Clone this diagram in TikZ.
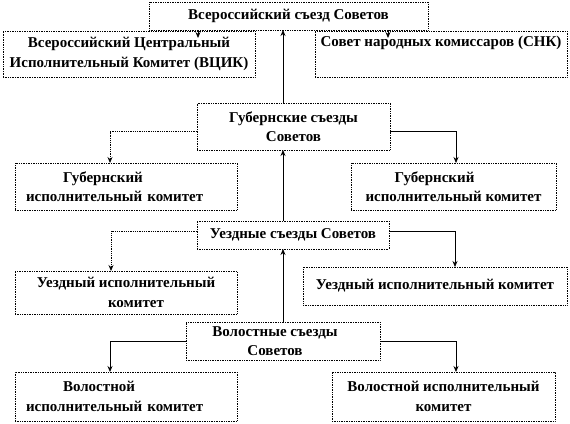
\documentclass[tikz,border=0pt]{standalone}
\usepackage{fontspec}
\setmainfont{Liberation Serif}
\usepackage{tikz}
\usetikzlibrary{arrows.meta,positioning,calc}
\tikzset{
  box/.style={draw=black,densely dotted,line width=0.7pt,inner sep=0pt,outer sep=0pt,align=center,font=\fontsize{15}{19.5}\selectfont\bfseries},
  lbox/.style={box,align=left,text width=200pt},
  arrow/.style={-{Stealth[length=6pt,width=5pt]},line width=0.8pt,draw=black},
  dotline/.style={densely dotted}
}

\begin{document}
\begin{tikzpicture}[x=1pt,y=-1pt]
  \useasboundingbox (0,0) rectangle (570,423);
  % all-russian level
  \node[box,minimum width=279pt,minimum height=28pt] (vsezd) at (288.5,16) {Всероссийский съезд Советов};
  \node[box,minimum width=252pt,minimum height=46pt] (vcik) at (129,54) {Всероссийский Центральный\\Исполнительный Комитет (ВЦИК)};
  \node[box,minimum width=252pt,minimum height=46pt] (snk) at (441,54) {Совет народных комиссаров (СНК)\\\strut};
  % gubernia
  \node[box,minimum width=193pt,minimum height=47pt] (gubsezd) at (293.5,126.5) {Губернские съезды\\Советов};
  \node[lbox,minimum width=222pt,minimum height=47pt] (gubikL) at (126,186.5) {\hspace*{37pt}Губернский\\исполнительный комитет};
  \node[box,minimum width=205pt,minimum height=47pt] (gubikR) at (453.5,186.5) {\hspace*{-38pt}Губернский\\исполнительный комитет};
  % uezd
  \node[box,minimum width=192pt,minimum height=28pt] (uezdsezd) at (293,235) {Уездные съезды Советов};
  \node[box,minimum width=222pt,minimum height=43pt] (uezdikL) at (126,292.5) {Уездный исполнительный\\\hspace*{20pt}комитет};
  \node[box,minimum width=264pt,minimum height=38pt] (uezdikR) at (435,286) {Уездный исполнительный комитет};
  % volost
  \node[box,minimum width=194pt,minimum height=38pt] (volsezd) at (283,341) {\hspace*{-16pt}Волостные съезды\\\hspace*{-16pt}Советов};
  \node[lbox,minimum width=222pt,minimum height=49pt] (volikL) at (126,396.5) {\hspace*{37pt}Волостной\\исполнительный комитет};
  \node[box,minimum width=223pt,minimum height=49pt] (volikR) at (443.5,396.5) {Волостной исполнительный\\комитет};

  \coordinate (axis) at (283,0);
  \coordinate (tipv) at (198,38);
  \coordinate (tips) at (388,38);

  \draw[arrow] (vsezd.south -| tipv) -- (tipv);
  \draw[arrow] (vsezd.south -| tips) -- (tips);
  \draw[arrow] (gubsezd.north -| axis) -- (vsezd.south -| axis);
  \draw[arrow] (uezdsezd.north -| axis) -- (gubsezd.south -| axis);
  \draw[arrow] (volsezd.north -| axis) -- (uezdsezd.south -| axis);

  \draw[arrow,dotline] ([yshift=-5pt]gubsezd.west) -| ([xshift=-16pt]gubikL.north);
  \draw[arrow] ([yshift=-5pt]gubsezd.east) -| ([xshift=2.5pt]gubikR.north);
  \draw[arrow,dotline] ([yshift=4pt]uezdsezd.west) -| ([xshift=-15pt]uezdikL.north);
  \draw[arrow] ([yshift=4pt]uezdsezd.east) -| ([xshift=20pt]uezdikR.north);
  \draw[arrow] (volsezd.west) -| ([xshift=-16pt]volikL.north);
  \draw[arrow] (volsezd.east) -| ([xshift=12.5pt]volikR.north);
\end{tikzpicture}
\end{document}
